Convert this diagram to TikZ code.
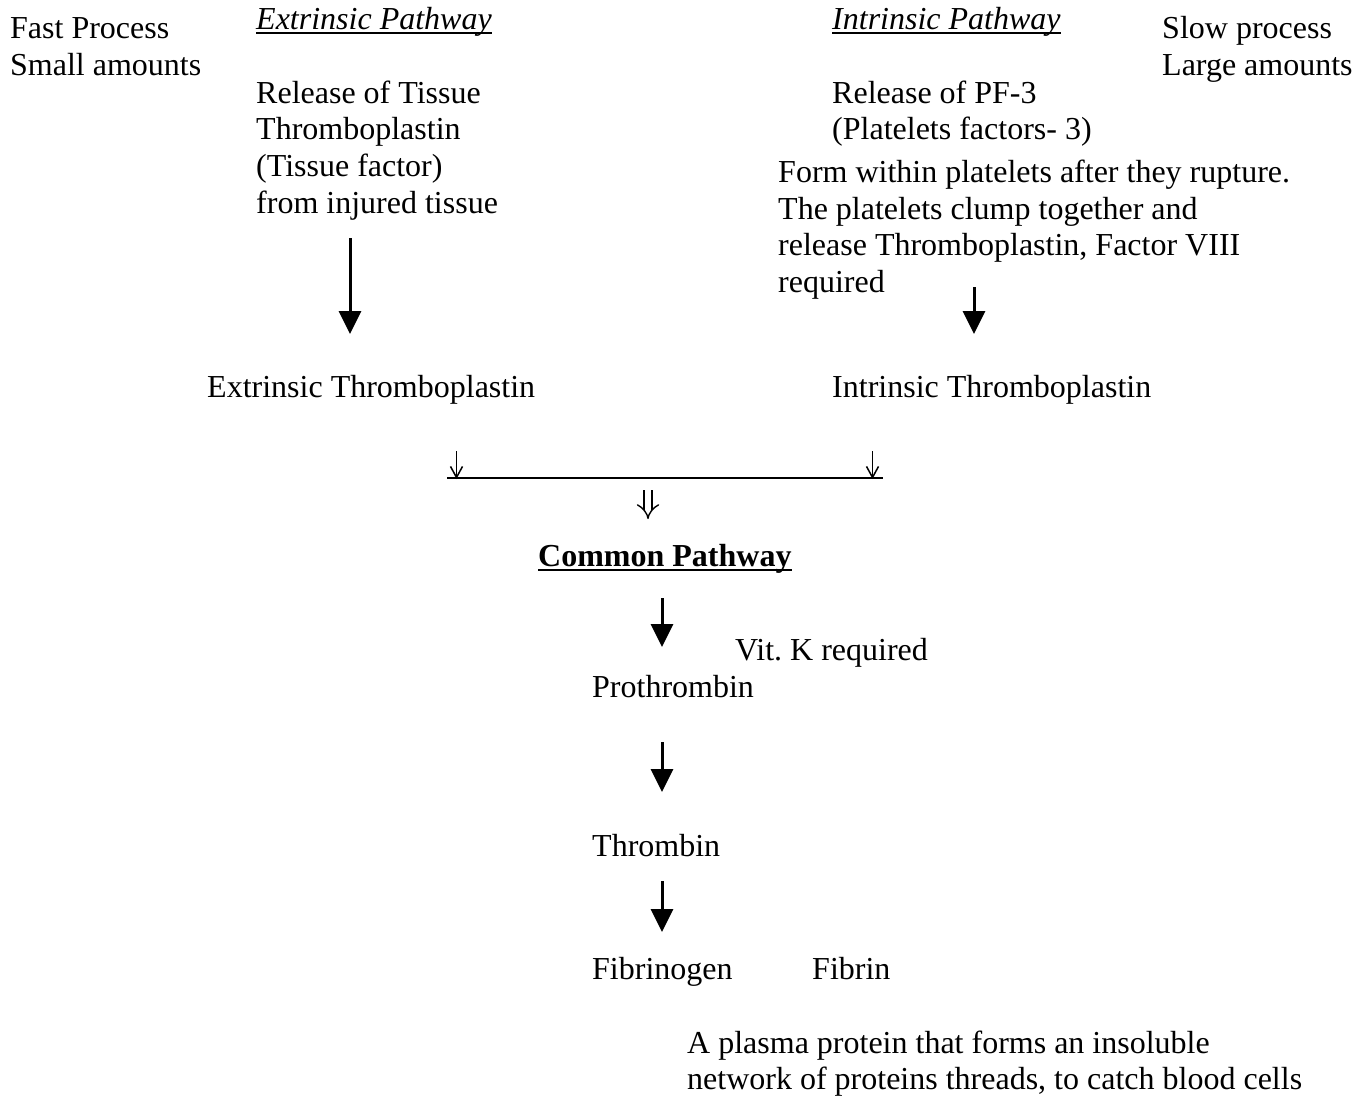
\documentclass[tikz,border=0pt]{standalone}
\usepackage{fontspec}
\setmainfont{Liberation Serif}
\usetikzlibrary{arrows.meta}
\frenchspacing
\begin{document}
\begin{tikzpicture}[x=1pt,y=-1pt,
  txt/.style={anchor=base west,inner sep=0pt,font=\fontsize{32}{37}\selectfont\frenchspacing},
  bigarrow/.style={line width=3pt,-{Triangle[width=22pt,length=23pt]}},
  smallarrow/.style={line width=1.5pt,-{Straight Barb[length=11pt,width=12pt,line width=1.5pt]}},
  uline/.style={line width=1.6pt}]
\useasboundingbox (0,0) rectangle (1368,1096);
% left column
\node[txt] (fast) at (10,38) {Fast Process};
\node[txt] (small) at (10,75) {Small amounts};
\node[txt] (extp) at (256,29) {\itshape Extrinsic Pathway};
\draw[uline] ([yshift=-4pt]extp.base west) -- ([yshift=-4pt]extp.base east);
\node[txt] (rel1) at (256,103) {Release of Tissue};
\node[txt] (rel2) at (256,139) {Thromboplastin};
\node[txt] (rel3) at (256,176) {(Tissue factor)};
\node[txt] (rel4) at (256,213) {from injured tissue};
% right column
\node[txt] (intp) at (832,29) {\itshape Intrinsic Pathway};
\draw[uline] ([yshift=-4pt]intp.base west) -- ([yshift=-4pt]intp.base east);
\node[txt] (slow) at (1162,38) {Slow process};
\node[txt] (large) at (1162,75) {Large amounts};
\node[txt] (pf1) at (832,103) {Release of PF-3};
\node[txt] (pf2) at (832,139) {(Platelets factors- 3)};
\node[txt] (fw1) at (778,182) {Form within platelets after they rupture.};
\node[txt] (fw2) at (778,219) {The platelets clump together and};
\node[txt] (fw3) at (778,255) {release Thromboplastin, Factor VIII};
\node[txt] (fw4) at (778,292) {required};
% thromboplastins
\node[txt] (extt) at (207,397) {Extrinsic Thromboplastin};
\node[txt] (intt) at (832,397) {Intrinsic Thromboplastin};
\coordinate (la1) at (350,238);
\coordinate (la2) at (350,334);
\draw[bigarrow] (la1) -- (la2);
\coordinate (ra1) at (974,287);
\coordinate (ra2) at (974,334);
\draw[bigarrow] (ra1) -- (ra2);
% junction
\coordinate (hl1) at (447,478);
\coordinate (hl2) at (883,478);
\draw[line width=1.5pt] (hl1) -- (hl2);
\coordinate (sa1) at (456.5,451);
\coordinate (sa2) at (456.5,479);
\draw[smallarrow] (sa1) -- (sa2);
\coordinate (sb1) at (872.5,451);
\coordinate (sb2) at (872.5,479);
\draw[smallarrow] (sb1) -- (sb2);
\coordinate (da1) at (648,490);
\coordinate (da2) at (648,519);
\draw[line width=1.4pt,double distance=6.5pt,-{Implies[length=10pt]}] (da1) -- (da2);
% common pathway
\node[txt] (common) at (538,566) {\bfseries Common Pathway};
\draw[line width=2pt] ([yshift=-4pt]common.base west) -- ([yshift=-4pt]common.base east);
\coordinate (ca1) at (662,598);
\coordinate (ca2) at (662,647);
\draw[bigarrow] (ca1) -- (ca2);
\node[txt] (vitk) at (735,660) {Vit. K required};
\node[txt] (prot) at (592,697) {Prothrombin};
\coordinate (pa1) at (662,742);
\coordinate (pa2) at (662,792);
\draw[bigarrow] (pa1) -- (pa2);
\node[txt] (thr) at (592,856) {Thrombin};
\coordinate (ta1) at (662,881);
\coordinate (ta2) at (662,932);
\draw[bigarrow] (ta1) -- (ta2);
\node[txt] (fibg) at (592,979) {Fibrinogen};
\node[txt] (fib) at (812,979) {Fibrin};
\node[txt] (ap1) at (687,1053) {A plasma protein that forms an insoluble};
\node[txt] (ap2) at (687,1089) {network of proteins threads, to catch blood cells};
\end{tikzpicture}
\end{document}
